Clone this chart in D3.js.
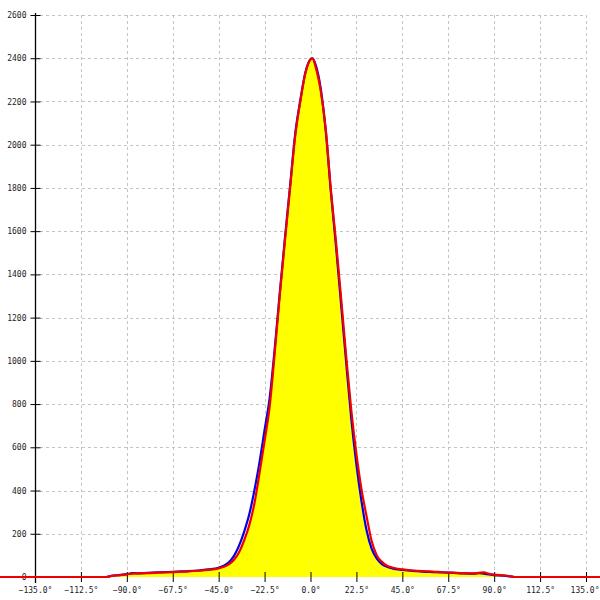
<!DOCTYPE html>
<html>
<head>
<meta charset="utf-8">
<script src="https://cdn.jsdelivr.net/npm/d3@7"></script>
<style>
html,body{margin:0;padding:0;background:#fff;}
svg{display:block;}
text{font-family:"DejaVu Sans Mono",monospace;font-size:8px;fill:#222;}
</style>
</head>
<body>
<svg id="chart" width="600" height="600"></svg>
<script>
// Angles (degrees) at which the curves were sampled
const angles = [-180,-100,-97.5,-95,-90,-87.5,-85,-80,-75,-70,-65,-60,-55,-50,-45,-42.5,-40,-37.5,-35,-32.5,-30,-27.5,-25,-22.5,-20,-17.5,-15,-12.5,-10,-7.5,-5,-2.5,0,1,2.5,5,7.5,10,12.5,15,17.5,20,22.5,25,27.5,30,32.5,35,37.5,40,45,50,55,60,65,70,75,80,82.5,85,87.5,90,95,97.5,100,180];
// Red series values
const redValues = [0,0,5,7,12,16,17,18,20,22,24,26,29,33,40,47,58,80,115,170,240,340,480,630,790,1040,1310,1560,1800,2040,2200,2330,2395,2400,2360,2250,2070,1790,1550,1290,1020,770,570,405,280,165,100,70,52,44,35,30,27,25,22,20,18,17,19,21,15,11,7,4,0,0];
// Blue series values
const blueValues = [0,0,5,8,13,18,17,19,21,23,25,27,30,35,43,52,68,98,145,210,290,400,530,680,830,1060,1320,1570,1810,2050,2205,2335,2395,2400,2370,2260,2060,1780,1530,1260,990,730,520,350,215,130,85,60,47,40,33,28,25,23,21,19,17,16,18,15,12,9,6,3,0,0];
// Axis ticks
const xTicks = [-135,-112.5,-90,-67.5,-45,-22.5,0,22.5,45,67.5,90,112.5,135];
const yTicks = [0,200,400,600,800,1000,1200,1400,1600,1800,2000,2200,2400,2600];

const svg = d3.select("#chart");
const x = d3.scaleLinear().domain([-135,135]).range([35,586]);
const y = d3.scaleLinear().domain([0,2600]).range([577,15]);

const red = angles.map((a,i)=>({a, v:redValues[i]}));
const blue = angles.map((a,i)=>({a, v:blueValues[i]}));
const fillData = angles.map((a,i)=>({a, v:Math.min(redValues[i],blueValues[i])}));
const curve = d3.curveMonotoneX;

// grid
const grid = svg.append("g").attr("stroke","#c4c4c4").attr("stroke-dasharray","3,3").attr("stroke-width",1);
grid.selectAll("line.h").data(yTicks.filter(d=>d>0)).join("line")
  .attr("x1",40).attr("x2",586).attr("y1",d=>Math.round(y(d))+0.5).attr("y2",d=>Math.round(y(d))+0.5);
grid.selectAll("line.v").data(xTicks.filter(d=>d>-135)).join("line")
  .attr("x1",d=>Math.round(x(d))+0.5).attr("x2",d=>Math.round(x(d))+0.5).attr("y1",15).attr("y2",572);

// yellow area
svg.append("path").datum(fillData.filter(d=>d.a>=-135 && d.a<=135))
  .attr("fill","#ffff00")
  .attr("d", d3.area().curve(curve).x(d=>x(d.a)).y0(y(0)).y1(d=>y(d.v)));

// y axis
const yAxis = d3.axisLeft(y).tickValues(yTicks).tickSize(5).tickFormat(d3.format("d"));
const ya = svg.append("g").attr("transform","translate(35.5,0)").call(yAxis);
ya.select(".domain").remove();
ya.selectAll(".tick line").attr("x1",-5).attr("x2",5).attr("stroke","#000");
ya.selectAll(".tick text").attr("x",-9).attr("font-family","DejaVu Sans Mono").attr("font-size","8px").attr("fill","#222");
svg.append("line").attr("x1",35.5).attr("x2",35.5).attr("y1",13).attr("y2",583).attr("stroke","#000").attr("stroke-width",1.3);

// x axis
const xAxis = d3.axisBottom(x).tickValues(xTicks).tickSize(5).tickFormat(d=>d3.format(".1f")(d)+"°");
const xa = svg.append("g").attr("transform","translate(0,577)").call(xAxis);
xa.select(".domain").remove();
xa.selectAll(".tick line").attr("y1",-5).attr("y2",5).attr("stroke","#000");
xa.selectAll(".tick text").attr("y",10).attr("dy","0.71em").attr("font-family","DejaVu Sans Mono").attr("font-size","8px").attr("fill","#222");
xa.selectAll(".tick text").filter(d=>d===135).attr("text-anchor","end").attr("x",13);

// lines
const line = d3.line().curve(curve).x(d=>x(d.a)).y(d=>y(d.v));
svg.append("path").datum(blue.filter(d=>d.a>=-135 && d.a<=135)).attr("fill","none").attr("stroke","#0000e6").attr("stroke-width",2.2).attr("d",line);
svg.append("path").datum(red).attr("fill","none").attr("stroke","#f00000").attr("stroke-width",2.2).attr("d",line);
</script>
</body>
</html>
